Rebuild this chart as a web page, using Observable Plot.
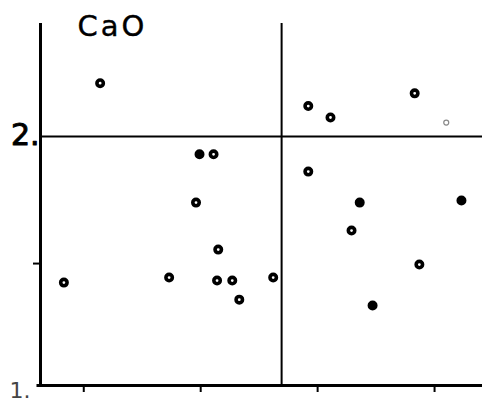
<!DOCTYPE html>
<html>
<head>
<meta charset="utf-8">
<script src="https://cdn.jsdelivr.net/npm/d3@7"></script>
<script src="https://cdn.jsdelivr.net/npm/@observablehq/plot@0.6"></script>
<style>
  html, body { margin: 0; padding: 0; background: #fff; }
  svg { display: block; }
  .title-text text { letter-spacing: 3px; }
</style>
</head>
<body>
<div id="chart"></div>
<script>
// ---- data ----
const xValues = [1.14, 1.99, 2.11, 1.96, 2.15, 0.83, 1.73, 2.14, 2.27, 2.33, 2.62,
                 2.92, 3.11, 3.83, 4.10, 2.92, 3.36, 4.23, 3.29, 3.87, 3.47];
const yValues = [2.21, 1.93, 1.93, 1.74, 1.555, 1.425, 1.445, 1.433, 1.433, 1.358, 1.445,
                 2.12, 2.075, 2.17, 2.055, 1.862, 1.74, 1.748, 1.63, 1.496, 1.335];
const markerKind = ["ring","solid","ring","ring","ring","ring","ring","ring","ring","ring","ring",
                    "ring","half","ring","faint","ring","solid","solid","ring","ring","solid"];
const xTicks = [1, 2, 3, 4];
const yTicks = [1.5];
const yTickLabels = [{value: 2, label: "2."}, {value: 1.02, label: "1."}];
const dividerX = [2.692];
const dividerY = [2];
const panelTitle = "CaO";

const xDomain = [0.63, 4.41];
const yDomain = [1.02, 2.445];

const points = xValues.map((x, i) => ({x, y: yValues[i], kind: markerKind[i]}));
const mainPts = points.filter(d => d.kind !== "faint");
const faintPts = points.filter(d => d.kind === "faint");

const chart = Plot.plot({
  width: 482,
  height: 403,
  marginLeft: 40,
  marginRight: 0,
  marginTop: 23,
  marginBottom: 18,
  style: {background: "#fff", fontFamily: "DejaVu Sans, sans-serif"},
  x: {domain: xDomain, axis: null},
  y: {domain: yDomain, axis: null},
  marks: [
    Plot.ruleY(dividerY, {x1: xDomain[0], x2: xDomain[1], stroke: "#000", strokeWidth: 2}),
    Plot.ruleX(dividerX, {y1: yDomain[0], y2: yDomain[1], stroke: "#000", strokeWidth: 2}),
    Plot.ruleX([xDomain[0]], {y1: yDomain[0], y2: yDomain[1], stroke: "#000", strokeWidth: 3}),
    Plot.ruleY([yDomain[0]], {x1: xDomain[0] - 0.03, x2: xDomain[1], stroke: "#000", strokeWidth: 3}),
    Plot.axisX({ticks: xTicks, tickSize: 7, tickFormat: () => "", strokeWidth: 2, label: null}),
    Plot.axisY({ticks: yTicks, tickSize: 7, tickFormat: () => "", strokeWidth: 2, label: null}),
    Plot.dot(mainPts, {
      x: "x", y: "y", r: 3.2,
      fill: d => d.kind === "solid" ? "#000" : "#fff",
      stroke: "#000", strokeWidth: 3.6
    }),
    Plot.dot(faintPts, {x: "x", y: "y", r: 2.5, fill: "none", stroke: "#888", strokeWidth: 1.2}),
    Plot.text(yTickLabels.slice(0, 1), {
      x: xDomain[0], y: "value", text: "label", textAnchor: "end", dx: -1, dy: -1,
      fontSize: 30, fill: "#000", stroke: "#000", strokeWidth: 1
    }),
    Plot.text(yTickLabels.slice(1), {
      x: xDomain[0], y: "value", text: "label", textAnchor: "end", dx: -10, dy: 5,
      fontSize: 22, fill: "#444"
    }),
    Plot.text([panelTitle], {
      frameAnchor: "top-left", dx: 37, dy: -8, text: d => d,
      fontSize: 29, fill: "#000", stroke: "#000", strokeWidth: 0.4,
      textAnchor: "start", lineAnchor: "top",
      fontFamily: "DejaVu Sans, sans-serif", className: "title-text"
    })
  ]
});
document.getElementById("chart").appendChild(chart);
</script>
</body>
</html>
